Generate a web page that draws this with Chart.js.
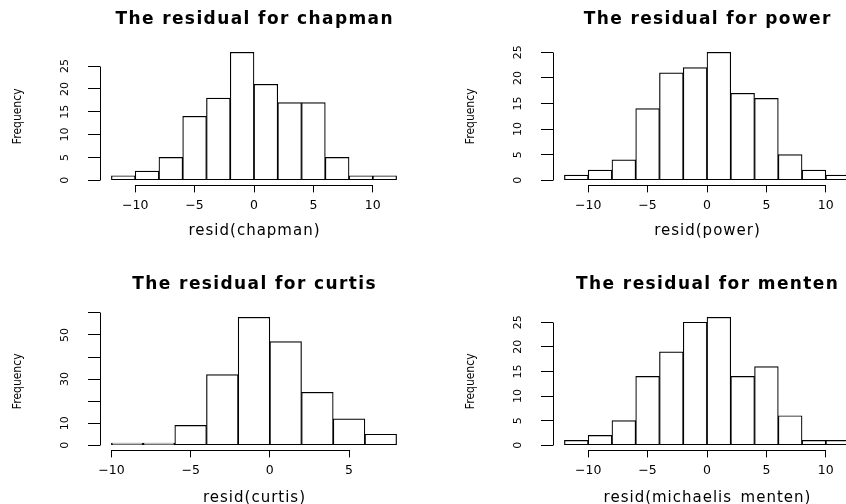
<!DOCTYPE html>
<html>
<head>
<meta charset="utf-8">
<script src="https://cdn.jsdelivr.net/npm/chart.js@4.4.1/dist/chart.umd.min.js"></script>
<style>
  html, body { margin: 0; padding: 0; background: #fff; }
  body { width: 846px; height: 504px; position: relative; overflow: hidden; }
  .panel { position: absolute; width: 423px; height: 252px; }
</style>
</head>
<body>
<div class="panel" style="left:0;top:0"><canvas id="chapman"></canvas></div>
<div class="panel" style="left:453px;top:0"><canvas id="power"></canvas></div>
<div class="panel" style="left:0;top:265px"><canvas id="curtis"></canvas></div>
<div class="panel" style="left:453px;top:265px"><canvas id="menten"></canvas></div>
<script>
// histogram breaks and counts
const breaksWide = [-12, -10, -8, -6, -4, -2, 0, 2, 4, 6, 8, 10, 12];
const breaksCurtis = [-10, -8, -6, -4, -2, 0, 2, 4, 6, 8];

const chapmanCounts = [1, 2, 5, 14, 18, 28, 21, 17, 17, 5, 1, 1];
const powerCounts = [1, 2, 4, 14, 21, 22, 25, 17, 16, 5, 2, 1];
const curtisCounts = [1, 1, 9, 32, 58, 47, 24, 12, 5];
const mentenCounts = [1, 2, 5, 14, 19, 25, 26, 14, 16, 6, 1, 1];

const xTicksWide = [-10, -5, 0, 5, 10];
const xTicksCurtis = [-10, -5, 0, 5];
const yTicks25 = [0, 5, 10, 15, 20, 25];
const yTicksCurtis = [0, 10, 20, 30, 40, 50, 60];
const yLabelsCurtis = [0, 10, 30, 50]; // R leaves out the others (overlap)

Chart.defaults.font.family = "'DejaVu Sans', sans-serif";
Chart.defaults.color = '#000';

// R draws the axis line only from first to last tick
const rAxisLines = {
    id: 'rAxisLines',
    afterDraw(chart) {
        const { ctx, chartArea, scales: { x, y } } = chart;
        const px = v => Math.round(v - 0.5) + 0.5;
        const xs = x.ticks, ys = y.ticks;
        ctx.save();
        ctx.strokeStyle = '#000';
        ctx.lineWidth = 1;
        ctx.beginPath();
        ctx.moveTo(px(x.getPixelForValue(xs[0].value)), px(chartArea.bottom));
        ctx.lineTo(px(x.getPixelForValue(xs[xs.length - 1].value)), px(chartArea.bottom));
        ctx.moveTo(px(chartArea.left), px(y.getPixelForValue(ys[0].value)));
        ctx.lineTo(px(chartArea.left), px(y.getPixelForValue(ys[ys.length - 1].value)));
        ctx.stroke();
        ctx.restore();
    }
};

// main title + x label; the R device draws these quite wide, hence a bit of letterSpacing
const rLabels = {
    id: 'rLabels',
    afterDraw(chart, args, opts) {
        const { ctx, chartArea } = chart;
        const cx = (chartArea.left + chartArea.right) / 2;
        ctx.save();
        ctx.fillStyle = '#000';
        ctx.textAlign = 'center';
        ctx.textBaseline = 'middle';

        ctx.font = "bold 17px 'DejaVu Sans'";
        ctx.letterSpacing = '1.4px';
        ctx.fillText(opts.main, cx + 0.7, chartArea.top - 27.5);

        ctx.font = "15px 'DejaVu Sans'";
        ctx.letterSpacing = '1px';
        ctx.fillText(opts.xlabel, cx + 0.5, chartArea.bottom + opts.xlabelGap);
        ctx.restore();
    }
};

function drawHist(id, breaks, counts, xTicks, yTicks, yShown, title, xTitle, xlabelGap) {
    const span = breaks[breaks.length - 1] - breaks[0];
    const top = Math.max(...counts);
    const bars = counts.map((c, i) => ({ x: (breaks[i] + breaks[i + 1]) / 2, y: c }));
    const minus = v => String(v).replace('-', '\u2212');

    new Chart(document.getElementById(id), {
        type: 'bar',
        data: {
            datasets: [{
                data: bars,
                backgroundColor: '#fff',
                borderColor: '#000',
                borderWidth: 1.2,
                borderSkipped: false,
                barPercentage: 1,
                categoryPercentage: 1
            }]
        },
        options: {
            responsive: true,
            maintainAspectRatio: false,
            animation: false,
            layout: { padding: { left: 0, right: 15, top: 47.2, bottom: 0 } },
            plugins: {
                legend: { display: false },
                tooltip: { enabled: false },
                title: { display: false },
                rLabels: { main: title, xlabel: xTitle, xlabelGap: xlabelGap }
            },
            scales: {
                x: {
                    type: 'linear',
                    offset: false,
                    min: breaks[0] - 0.04 * span,
                    max: breaks[breaks.length - 1] + 0.04 * span,
                    afterBuildTicks: s => { s.ticks = xTicks.map(v => ({ value: v })); },
                    afterFit: s => { s.height = 66.6; },
                    border: { display: false },
                    grid: { offset: false, drawOnChartArea: false, color: '#000', lineWidth: 1, tickLength: 7 },
                    ticks: { autoSkip: false, maxRotation: 0, padding: 6, font: { size: 12.5 }, callback: v => minus(v) }
                },
                y: {
                    type: 'linear',
                    min: -0.04 * top,
                    max: 1.04 * top,
                    afterBuildTicks: s => { s.ticks = yTicks.map(v => ({ value: v })); },
                    afterFit: s => { s.width = 100; },
                    border: { display: false },
                    grid: { offset: false, drawOnChartArea: false, color: '#000', lineWidth: 1, tickLength: 12 },
                    ticks: {
                        autoSkip: false,
                        minRotation: 90,
                        maxRotation: 90,
                        crossAlign: 'center',
                        padding: 15.5,
                        font: { size: 11 },
                        callback: v => yShown.includes(v) ? String(v) : ''
                    },
                    title: {
                        display: true,
                        text: 'Frequency',
                        font: { family: "'Liberation Sans Narrow', 'DejaVu Sans Condensed', sans-serif", size: 12 },
                        padding: { top: 11, bottom: 0 }
                    }
                }
            }
        },
        plugins: [rAxisLines, rLabels]
    });
}

drawHist('chapman', breaksWide, chapmanCounts, xTicksWide, yTicks25, yTicks25,
    'The residual for chapman', 'resid(chapman)', 45.5);
drawHist('power', breaksWide, powerCounts, xTicksWide, yTicks25, yTicks25,
    'The residual for power', 'resid(power)', 45.5);
drawHist('curtis', breaksCurtis, curtisCounts, xTicksCurtis, yTicksCurtis, yLabelsCurtis,
    'The residual for curtis', 'resid(curtis)', 48);
drawHist('menten', breaksWide, mentenCounts, xTicksWide, yTicks25, yTicks25,
    'The residual for menten', 'resid(michaelis_menten)', 48);
</script>
</body>
</html>
